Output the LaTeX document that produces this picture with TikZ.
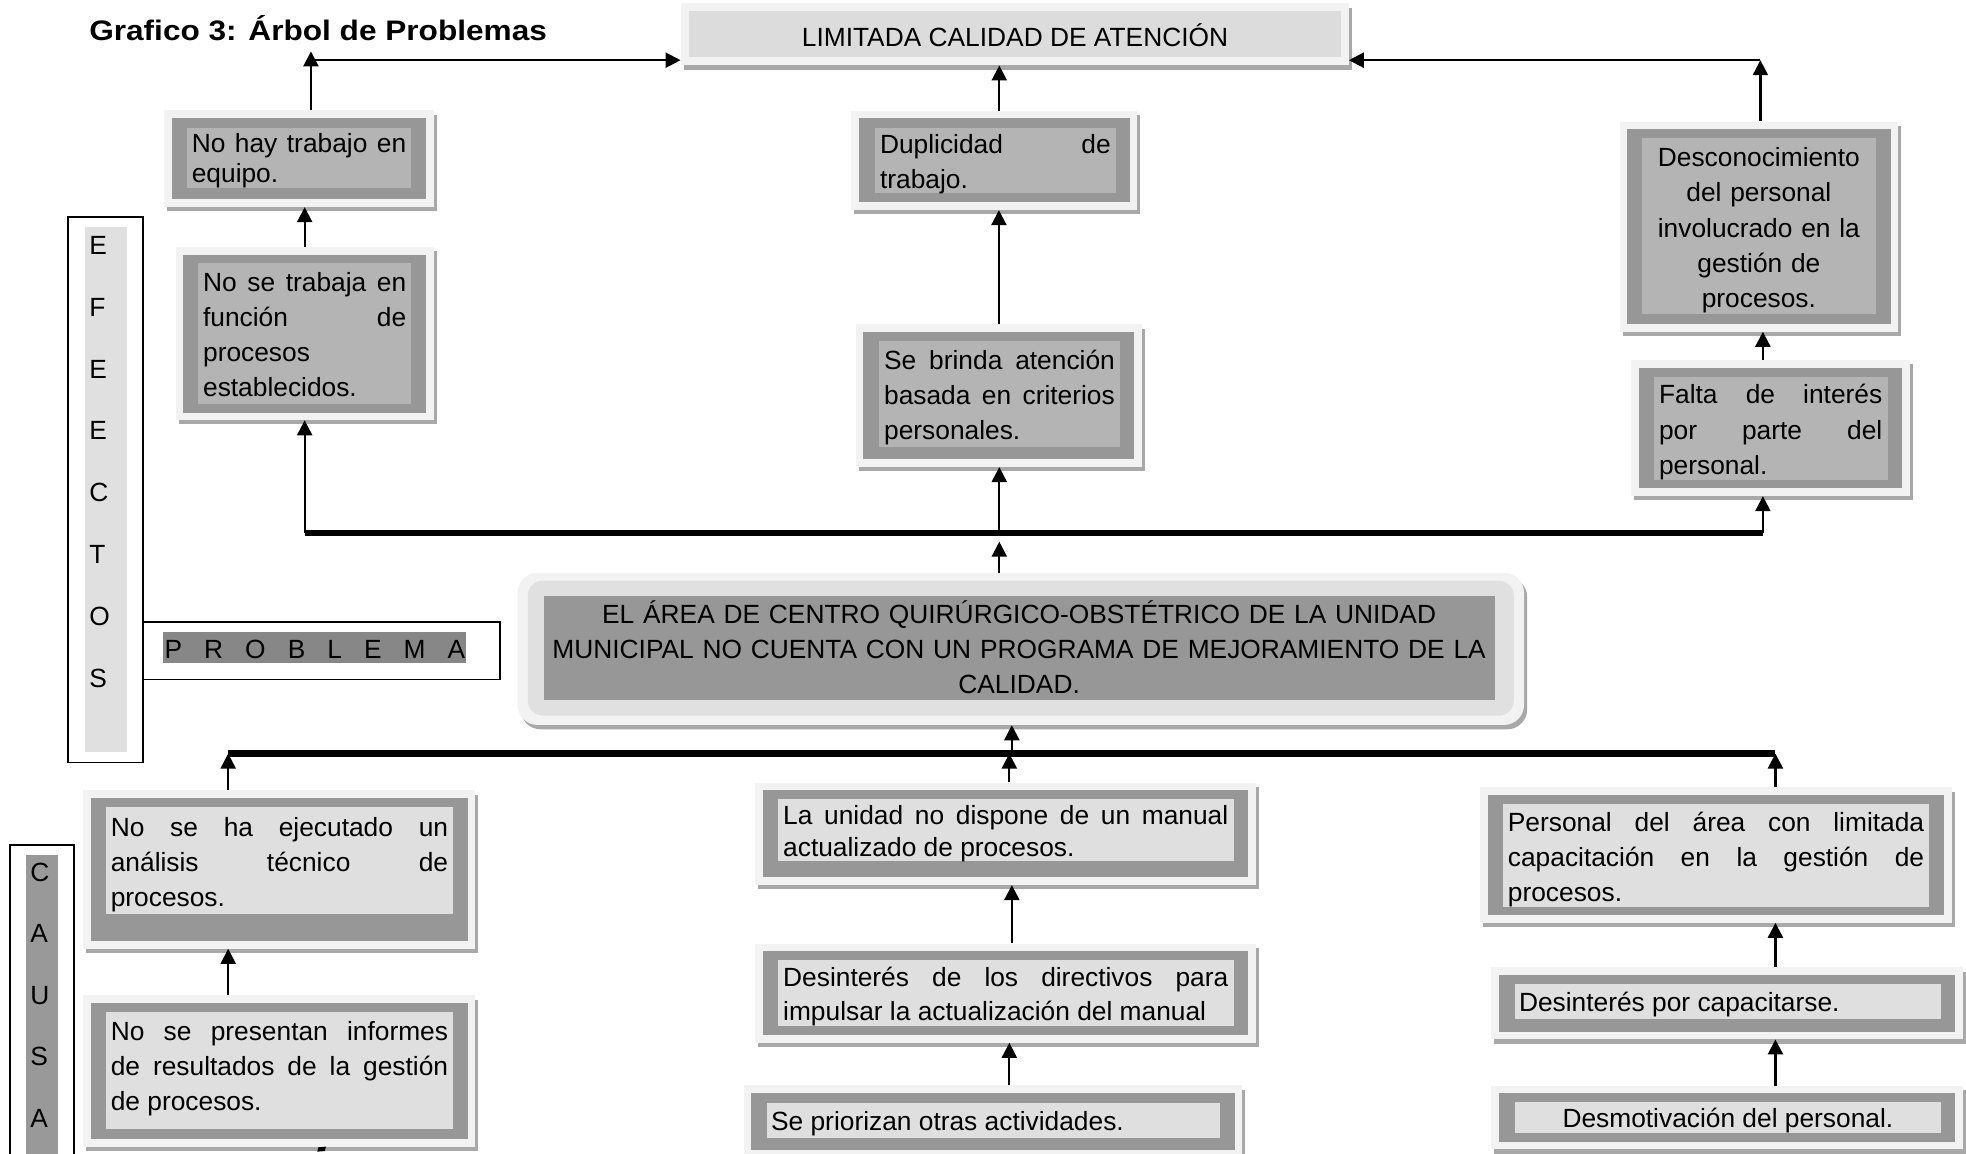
\documentclass[tikz,border=0pt]{standalone}
\usepackage{fontspec}
\setmainfont{Liberation Sans}
\newfontfamily\titlefamily{Liberation Sans}[FakeStretch=1.12]
\usetikzlibrary{arrows.meta,fit,calc}
\setlength\parindent{0pt}

\definecolor{framegray}{HTML}{F2F2F2}
\definecolor{shadowgray}{HTML}{A8A8A8}
\definecolor{bordergray}{HTML}{979797}
\definecolor{effectfill}{HTML}{B4B4B4}
\definecolor{causefill}{HTML}{DFDFDF}
\definecolor{headfill}{HTML}{DCDCDC}
\definecolor{ringfill}{HTML}{E0E0E0}
\definecolor{stripfill}{HTML}{E0E0E0}
\definecolor{causestrip}{HTML}{999999}
\definecolor{labelfill}{HTML}{878787}

\newcommand\bodysize{\fontsize{21}{28}\selectfont}
\newcommand\parsetup{\hyphenpenalty=10000 \exhyphenpenalty=10000 \tolerance=10000 }
\newcommand\spreadletters{\spaceskip=17.6pt\relax}

\tikzset{
  arr/.style={line width=1.8pt, -{Triangle[length=12pt,width=12pt]}},
  bar/.style={line width=5pt},
  frame/.style={inner sep=0pt, fill=framegray},
  btext/.style={inner sep=0pt, font={\bodysize\parsetup}, align=justify, yshift=-3pt},
  ctext/.style={inner sep=0pt, font={\bodysize\parsetup}, align=center, yshift=-3pt},
  ltext/.style={inner sep=0pt, font=\bodysize, yshift=-2pt},
  letter/.style={inner sep=0pt, font=\bodysize, anchor=base west},
  labelbox/.style={draw, line width=1.3pt, inner sep=0pt},
}

% #1 name, #2-#5 grey border rectangle, #6-#9 text panel
\newcommand\diagbox[9]{%
  \fill[shadowgray] (#2-3.5,#3-2.5) rectangle (#4+8.5,#5+9.5);
  \node[frame, fit={(#2-6,#3-6) (#4+6,#5+6)}] (#1) {};
  \fill[bordergray] (#2,#3) rectangle (#4,#5);
  \node[inner sep=0pt, fill=\panelcolor, fit={(#6,#7) (#8,#9)}] (#1-p) {};
}

\begin{document}
\begin{tikzpicture}[x=1pt,y=-1pt]
\useasboundingbox (0,0) rectangle (1568,920);
\clip (0,0) rectangle (1568,920);
\fill[white] (0,0) rectangle (1568,920);

% title
\node[inner sep=0pt, anchor=base west,
      font=\titlefamily\bfseries\fontsize{22.5}{27}\selectfont] (title) at (71,32)
  {Grafico 3: Árbol de Problemas};

% head problem
\fill[shadowgray] (545.5,6.2) rectangle (1078.1,55.5);
\node[frame, fit={(543,2.7) (1075.6,52)}] (lim) {};
\node[inner sep=0pt, fill=headfill, fit={(549.6,8.5) (1069.6,45.2)}] (lim-p) {};
\node[inner sep=0pt, font=\bodysize, anchor=base] (lim-t) at (809.5,37)
  {LIMITADA CALIDAD DE ATENCIÓN};

% effects
\def\panelcolor{effectfill}
\diagbox{e1}{137}{94}{340}{159}{149}{102}{328}{150}
\diagbox{e2}{146}{203}{340}{329}{158}{210}{328}{322}
\diagbox{e3}{685}{94.4}{901}{161.4}{698}{102.4}{889.8}{153.7}
\diagbox{e4}{688.6}{264.5}{904.8}{366.3}{701}{271.7}{893.3}{356.3}
\diagbox{e5}{1298}{103.1}{1508}{258.4}{1309.6}{110.3}{1496}{250.7}
\diagbox{e6}{1307}{293.2}{1517}{389.5}{1319}{300.4}{1505.4}{382.8}

\node[btext, text width=171pt, font={\fontsize{21}{24}\selectfont\parsetup}] (e1-t) at (e1-p.center)
  {\strut No hay trabajo en\linebreak equipo.\strut};
\node[btext, text width=162pt] (e2-t) at (e2-p.center)
  {\strut No se trabaja en\linebreak función de\linebreak procesos\linebreak establecidos.\strut};
\node[btext, text width=184pt] (e3-t) at (e3-p.center)
  {\strut Duplicidad de\linebreak trabajo.\strut};
\node[btext, text width=184pt] (e4-t) at (e4-p.center)
  {\strut Se brinda atención\linebreak basada en criterios\linebreak personales.\strut};
\node[ctext, text width=186pt] (e5-t) at (e5-p.center)
  {\strut Desconocimiento\\ del personal\\ involucrado en la\\ gestión de\\ procesos.\strut};
\node[btext, text width=178pt] (e6-t) at (e6-p.center)
  {\strut Falta de interés\linebreak por parte del\linebreak personal.\strut};

% central problem
\fill[shadowgray, rounded corners=16pt] (415.3,460.3) rectangle (1218,581.7);
\node[inner sep=0pt, fill=framegray, rounded corners=16pt,
      fit={(412.8,456.8) (1215.5,578.2)}] (prob) {};
\fill[ringfill, rounded corners=12pt] (421,463.1) rectangle (1207.3,570.8);
\node[inner sep=0pt, fill=bordergray, fit={(433.5,475.4) (1192.1,558.3)}] (prob-p) {};
\node[ctext, text width=750pt] (prob-t) at (prob-p.center)
  {\strut EL ÁREA DE CENTRO QUIRÚRGICO-OBSTÉTRICO DE LA UNIDAD\\
   MUNICIPAL NO CUENTA CON UN PROGRAMA DE MEJORAMIENTO DE LA\\
   CALIDAD.\strut};

% causes
\def\panelcolor{causefill}
\diagbox{c1}{72.3}{636.2}{373.1}{750.5}{84.4}{643.9}{361.4}{729}
\diagbox{c2}{72.3}{799.7}{373.1}{908.4}{84.4}{807.4}{361.4}{900.7}
\diagbox{c3}{608.2}{630.1}{995.4}{699.7}{620.5}{637.5}{983.8}{686.5}
\diagbox{c4}{608.2}{758.5}{995.4}{825.5}{620.5}{765.7}{983.8}{818.3}
\diagbox{c5}{599.2}{871.5}{984.8}{917.2}{611.7}{879.5}{973}{907.9}
\diagbox{c6}{1186.6}{634}{1550.5}{729.8}{1198.8}{641.3}{1538.5}{723.1}
\diagbox{c7}{1195.3}{777.6}{1559.2}{822.8}{1208.2}{784.8}{1548}{813}
\diagbox{c8}{1195.3}{872}{1559.2}{910.6}{1208.2}{879.2}{1548}{903.4}

\node[btext, text width=269pt] (c1-t) at (c1-p.center)
  {\strut No se ha ejecutado un\linebreak análisis técnico de\linebreak procesos.\strut};
\node[btext, text width=269pt, yshift=5pt] (c2-t) at (c2-p.center)
  {\strut No se presentan informes\linebreak de resultados de la gestión\linebreak de procesos.\strut};
\node[btext, text width=355pt, font={\fontsize{21}{26}\selectfont\parsetup}] (c3-t) at (c3-p.center)
  {\strut La unidad no dispone de un manual\linebreak actualizado de procesos.\strut};
\node[btext, text width=355pt, font={\fontsize{21}{27}\selectfont\parsetup}] (c4-t) at (c4-p.center)
  {\strut Desinterés de los directivos para\linebreak impulsar la actualización del manual\strut};
\node[ltext, anchor=west, xshift=3.3pt] (c5-t) at (c5-p.west)
  {\strut Se priorizan otras actividades.};
\node[btext, text width=332pt] (c6-t) at (c6-p.center)
  {\strut Personal del área con limitada\linebreak capacitación en la gestión de\linebreak procesos.\strut};
\node[ltext, anchor=west, xshift=3.3pt] (c7-t) at (c7-p.west)
  {\strut Desinterés por capacitarse.};
\node[ltext] (c8-t) at (c8-p.center)
  {\strut Desmotivación del personal.};

% side labels
\node[labelbox, fit={(54,173) (114,608)}] (efectos) {};
\fill[stripfill] (68,181) rectangle (101,600);
\foreach \c [count=\i] in {E,F,E,E,C,T,O,S}
  \node[letter] (efectos-\i) at (71,203+49.3*\i-49.3) {\c};

\node[labelbox, fit={(114,496) (399,542)}] (problema) {};
\fill[labelfill] (130,504) rectangle (372,529);
\node[letter, font=\bodysize\spreadletters] (problema-t) at (131,525) {P R O B L E M A};

\node[labelbox, fit={(7.8,674) (58.8,940)}] (causa) {};
\fill[causestrip] (20.7,682) rectangle (46,940);
\foreach \c [count=\i] in {C,A,U,S,A}
  \node[letter] (causa-\i) at (24,703+49*\i-49) {\c};

% bars and turning points
\coordinate (ubl) at (243,425);
\coordinate (ubm) at (797,425);
\coordinate (ubr) at (1406,425);
\coordinate (lbl) at (182,601);
\coordinate (lbm) at (807,601);
\coordinate (lbn) at (805,601);
\coordinate (lbr) at (1416,601);
\coordinate (tl) at (248,48);
\coordinate (tr) at (1404,48);

\draw[bar] (ubl) -- (ubr);
\draw[bar] (lbl) -- (lbr);

% effect connectors
\draw[arr] (ubl) -- (ubl |- e2.south);
\draw[arr] (ubm) -- (ubm |- e4.south);
\draw[arr] (ubr) -- (ubr |- e6.south);
\draw[arr] (ubm |- prob.north) -- ([yshift=-7pt]ubm);
\draw[arr] (e2.north) -- (e2.north |- e1.south);
\draw[arr] (tl |- e1.north) -- ([yshift=7pt]tl);
\draw[arr] (tl) -- (tl -| lim.west);
\draw[arr] (e4.north) -- (e4.north |- e3.south);
\draw[arr] (ubm |- e3.north) -- (ubm |- lim.south);
\draw[arr] (ubr |- e6.north) -- (ubr |- e5.south);
\draw[arr] (tr |- e5.north) -- (tr);
\draw[arr] (tr) -- (tr -| lim.east);

% cause connectors
\draw[arr] (lbl |- c1.north) -- (lbl);
\draw[arr] (lbn |- c3.north) -- (lbn);
\draw[arr] (lbm) -- (lbm |- prob.south);
\draw[arr] (lbr |- c6.north) -- (lbr);
\draw[arr] (lbl |- c2.north) -- (lbl |- c1.south);
\draw[arr] (lbm |- c4.north) -- (lbm |- c3.south);
\draw[arr] (lbn |- c5.north) -- (lbn |- c4.south);
\draw[arr] (lbr |- c7.north) -- (lbr |- c6.south);
\draw[arr] (lbr |- c8.north) -- (lbr |- c7.south);

% small stray stroke below the lower left panel
\fill (254,915) -- (260,914.5) -- (259,918) -- (253,918.5) -- cycle;
\end{tikzpicture}
\end{document}
